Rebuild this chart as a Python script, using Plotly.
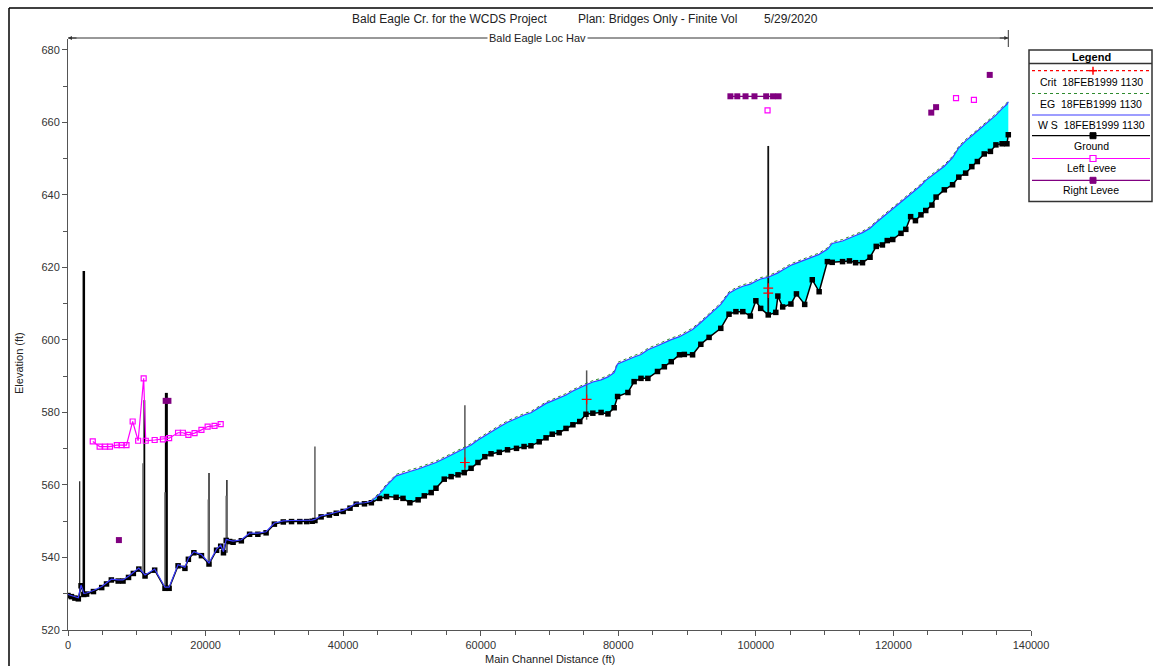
import plotly.graph_objects as go

# ---------------- data ----------------
dist = [0, 500, 1000, 1500, 1900, 2300, 2700, 3700, 4900, 5600, 6300, 7300, 8000, 8800, 9500,
        10300, 11200, 12600, 14100, 14700, 16000, 17000, 17500, 18300, 19400, 20500, 21600,
        22200, 22600, 23000, 23500, 24000, 25200, 26400, 27600, 28800, 30000, 31300, 32500,
        33700, 34700, 35500, 35900, 36800, 38000, 39000, 40000, 41000, 41900, 43100,
        44100, 45300, 46300, 47700, 48700, 49700, 50900, 51800, 52800, 53500, 54700, 55700,
        56700, 57600, 58600, 59600, 60600, 61500, 62700, 63900, 65200, 66300, 67300, 68500,
        69500, 70400, 71400, 72400, 73400, 74400, 75300, 76300, 77500, 78500, 79400, 79900,
        81400, 82300, 83300, 84300, 85700, 86700, 87700, 88900, 89600, 90800, 92000, 93200,
        94900, 96100, 97100, 98100, 99200, 100000, 100700, 101800, 102900, 103200, 103900,
        105100, 105900, 107100, 108200, 109200, 110400, 111100, 112600, 113600, 114500,
        115500, 116600, 117500, 118400, 119100, 119900, 121100, 121800, 122500, 123200,
        124000, 124700, 125600, 126200, 127400, 128600, 129500, 130500, 131400, 132200,
        133200, 134100, 134900, 135800, 136500, 136700]

ground = [529.5, 529.2, 528.8, 528.6, 532.2, 529.8, 529.9, 530.6, 531.7, 532.7, 533.8, 533.5,
          533.5, 534.5, 535.6, 536.8, 534.9, 536.5, 531.5, 531.5, 537.7, 537.0, 539.5, 541.3,
          540.5, 538.2, 542.0, 543.1, 541.3, 544.7, 544.4, 544.2, 544.6, 546.4, 546.4, 546.8,
          549.2, 549.8, 549.9, 549.9, 549.9, 550.0, 550.2, 551.2, 551.7, 552.2, 552.7, 553.6,
          554.7, 554.8,
          555.1, 556.3, 556.8, 556.6, 556.3, 555.1, 555.9, 557.0, 557.9, 559.1, 561.6, 562.3,
          562.8, 563.4, 564.6, 566.2, 567.8, 568.6, 569.0, 569.7, 570.1, 570.6, 570.8, 571.9,
          573.0, 574.0, 574.4, 575.6, 576.6, 577.5, 579.5, 579.8, 580.0, 579.6, 581.3, 584.4,
          585.5, 588.5, 589.4, 589.4, 591.3, 592.6, 594.0, 595.9, 596.0, 595.9, 598.8, 600.7,
          603.2, 607.1, 607.8, 607.8, 606.6, 610.8, 608.7, 606.9, 607.6, 612.1, 609.1,
          609.9, 612.7, 609.8, 616.6, 613.3, 621.6, 621.4, 621.6, 621.8, 621.3,
          621.3, 622.8, 625.8, 626.2, 627.4, 627.7, 629.4, 630.5, 634.0, 632.9,
          634.5, 635.7, 637.2, 639.4, 641.4, 642.8, 644.9, 646.0, 647.8, 649.2,
          651.3, 652.0, 653.8, 654.1, 654.1, 656.6]

ws = [529.8, 529.5, 529.1, 528.9, 532.4, 530.1, 530.2, 530.9, 532.0, 533.0, 534.0, 533.8,
      533.8, 534.8, 535.9, 537.1, 535.2, 536.8, 531.8, 531.8, 538.0, 537.3, 539.8, 541.6,
      540.8, 538.5, 542.3, 543.4, 541.6, 545.0, 544.7, 544.5, 544.9, 546.7, 546.7, 547.1,
      549.5, 550.1, 550.2, 550.2, 550.2, 550.3, 550.5, 551.5, 552.0, 552.5, 553.0, 553.9,
      555.0, 555.1,
      555.5, 557.5, 559.8, 562.5, 563.2, 563.7, 564.4, 565.0, 565.6, 566.2, 567.3, 568.3,
      569.1, 570.0, 571.0, 572.4, 573.6, 574.8, 576.0, 577.3, 578.5, 579.3, 579.9, 581.2,
      582.5, 583.2, 583.9, 584.8, 585.9, 586.9, 587.6, 588.4, 589.0, 589.8, 591.0, 593.4,
      594.7, 595.3, 596.0, 597.3, 598.4, 599.3, 600.1, 600.9, 601.6, 602.9, 604.8, 606.9,
      609.8, 612.9, 614.0, 614.8, 615.4, 616.2, 616.8, 617.3, 618.2, 618.5, 619.3,
      620.6, 621.2, 622.1, 623.0, 623.6, 625.0, 626.6, 627.3, 628.0, 628.8,
      629.6, 630.8, 632.4, 633.8, 635.0, 636.0, 638.0, 639.1, 640.3, 641.3,
      642.6, 644.0, 645.4, 646.2, 647.9, 650.3, 653.0, 654.9, 656.3, 657.6,
      659.4, 660.7, 662.0, 663.8, 665.0, 665.7]

eg_dist = [44100, 45300, 46300, 47700, 48700, 49700, 50900, 51800, 52800, 53500, 54700, 55700,
           56700, 57600, 58600, 59600, 60600, 61500, 62700, 63900, 65200, 66300, 67300, 68500,
           69500, 70400, 71400, 72400, 73400, 74400, 75300, 76300, 77500, 78500, 79400, 79900,
           81400, 82300, 83300, 84300, 85700, 86700, 87700, 88900, 89600, 90800, 92000, 93200,
           94900, 96100, 97100, 98100, 99200, 100000, 100700, 101800, 102900, 103200, 103900,
           105100, 105900, 107100, 108200, 109200, 110400, 111100, 112600, 113600, 114500,
           115500, 116600, 117500, 118400, 119100, 119900, 121100, 121800, 122500, 123200,
           124000, 124700, 125600, 126200, 127400, 128600, 129500, 130500, 131400, 132200,
           133200, 134100, 134900, 135800, 136500, 136700]
eg = [555.8, 557.9, 560.2, 562.9, 563.6, 564.1, 564.8, 565.4, 566.0, 566.6, 567.7, 568.7,
      569.5, 570.4, 571.4, 572.8, 574.0, 575.2, 576.4, 577.7, 578.9, 579.7, 580.3, 581.6,
      582.9, 583.6, 584.3, 585.2, 586.3, 587.3, 588.0, 588.8, 589.4, 590.2, 591.4, 593.8,
      595.1, 595.7, 596.4, 597.7, 598.8, 599.7, 600.5, 601.3, 602.0, 603.3, 605.2, 607.3,
      610.2, 613.3, 614.4, 615.2, 615.8, 616.6, 617.2, 617.7, 618.6, 618.9, 619.7,
      621.0, 621.6, 622.5, 623.4, 624.0, 625.4, 627.0, 627.7, 628.4, 629.2,
      630.0, 631.2, 632.8, 634.2, 635.4, 636.4, 638.4, 639.5, 640.7, 641.7,
      643.0, 644.4, 645.8, 646.6, 648.3, 650.7, 653.4, 655.3, 656.7, 658.0,
      659.8, 661.1, 662.4, 664.2, 665.4, 666.1]

crit_dist = [57700, 75400, 101800, 101800]
crit = [566.2, 583.6, 612.9, 614.3]

left_levee_dist = [3600, 4600, 5400, 6100, 7100, 7800, 8500, 9400, 10200, 11000, 11300, 12600,
                   13800, 14700, 16000, 16700, 17500, 18400, 19400, 20300, 21300, 22200,
                   None, 101700, None, 129100, None, 131700]
left_levee = [572.0, 570.6, 570.6, 570.6, 571.0, 571.0, 571.0, 577.5, 572.2, 589.4, 572.2, 572.4,
              572.6, 572.9, 574.4, 574.4, 573.8, 574.3, 575.2, 576.1, 576.3, 576.8,
              None, 663.3, None, 666.7, None, 666.2]

right_levee_dist = [7400, None, 14200, 14600, None, 96300, 97300, 98500, 99800, 101500, 102500,
                    103300, None, 125500, 126200, None, 134000]
right_levee = [544.8, None, 583.2, 583.2, None, 667.2, 667.2, 667.2, 667.2, 667.2, 667.2,
               667.2, None, 662.7, 664.2, None, 673.1]

bridge_dist = [1700, 2300, 11100, 14300, 20500, 23100, 35900, 57700, 75400, 101800]
bridge_low = [529.0, 529.8, 534.9, 531.5, 538.2, 541.3, 550.2, 563.4, 578.0, 606.9]
bridge_high = [561.0, 619.0, 583.4, 585.4, 563.3, 561.4, 570.6, 582.0, 591.6, 653.5]
# secondary (gray) faces of bridges
face_dist = [10900, 14100, 20400, 23000]
face_low = [535.5, 531.5, 538.3, 541.5]
face_high = [566.0, 558.0, 556.0, 557.0]

reach_name = "Bald Eagle Loc Hav"
reach_end = 136700

# styles
bridge_width = [1.2, 2.5, 1.8, 3.0, 1.5, 1.5, 1.2, 1.5, 1.5, 1.8]
bridge_color = ["#222", "#000", "#000", "#000", "#222", "#222", "#333", "#555", "#555", "#111"]

FONT = "Liberation Sans, Arial, sans-serif"
PL, PR, PT, PB = 68, 1031, 39, 630
W, H = PR - PL, PB - PT


def px(x):
    return (x - PL) / W


def py(y):
    return (PB - y) / H


fig = go.Figure()

# water fill
fig.add_trace(go.Scatter(x=dist, y=ground, mode="lines", line=dict(width=0, color="black"),
                         hoverinfo="skip", showlegend=False))
fig.add_trace(go.Scatter(x=dist, y=ws, mode="lines", line=dict(width=0, color="cyan"),
                         fill="tonexty", fillcolor="#00ffff", hoverinfo="skip", showlegend=False))

# bridges
for i in range(len(bridge_dist)):
    fig.add_trace(go.Scatter(x=[bridge_dist[i], bridge_dist[i]], y=[bridge_low[i], bridge_high[i]],
                             mode="lines", line=dict(color=bridge_color[i], width=bridge_width[i]),
                             showlegend=False, hoverinfo="skip"))
fx, fy = [], []
for d, lo, hi in zip(face_dist, face_low, face_high):
    fx += [d, d, None]
    fy += [lo, hi, None]
fig.add_trace(go.Scatter(x=fx, y=fy, mode="lines", line=dict(color="#666", width=1.5),
                         showlegend=False, hoverinfo="skip"))

# ground
fig.add_trace(go.Scatter(x=dist, y=ground, mode="lines+markers",
                         line=dict(color="black", width=1.5),
                         marker=dict(symbol="square", size=5.5, color="black"),
                         name="Ground", showlegend=False))
# EG
fig.add_trace(go.Scatter(x=eg_dist, y=eg, mode="lines", line=dict(color="#2e8b2e", width=1, dash="dot"),
                         name="EG 18FEB1999 1130", showlegend=False))
# WS
fig.add_trace(go.Scatter(x=dist, y=ws, mode="lines", line=dict(color="#3c3cff", width=1.2),
                         name="WS 18FEB1999 1130", showlegend=False))
# Crit
fig.add_trace(go.Scatter(x=crit_dist, y=crit, mode="markers",
                         marker=dict(symbol="cross-thin", size=7, line=dict(color="red", width=1.2)),
                         name="Crit 18FEB1999 1130", showlegend=False))
# levees
fig.add_trace(go.Scatter(x=left_levee_dist, y=left_levee, mode="lines+markers",
                         line=dict(color="#ff00ff", width=1.2),
                         marker=dict(symbol="square-open", size=5, color="#ff00ff", line=dict(width=1.2)),
                         name="Left Levee", showlegend=False, connectgaps=False))
fig.add_trace(go.Scatter(x=right_levee_dist, y=right_levee, mode="lines+markers",
                         line=dict(color="#800080", width=1.2),
                         marker=dict(symbol="square", size=6, color="#800080"),
                         name="Right Levee", showlegend=False, connectgaps=False))

shapes = []
annotations = []

# frame
shapes.append(dict(type="line", xref="paper", yref="paper", x0=px(9), x1=px(1153), y0=py(8), y1=py(8),
                   line=dict(color="black", width=1.5)))
shapes.append(dict(type="line", xref="paper", yref="paper", x0=px(9), x1=px(9), y0=py(8), y1=py(666),
                   line=dict(color="black", width=1.5)))

# reach arrow line
yr = py(38)
shapes.append(dict(type="line", xref="x", yref="paper", x0=0, x1=reach_end, y0=yr, y1=yr,
                   line=dict(color="#333", width=1)))
shapes.append(dict(type="line", xref="x", yref="paper", x0=reach_end, x1=reach_end, y0=py(30), y1=py(47),
                   line=dict(color="#333", width=1)))
annotations.append(dict(x=0, y=yr, xref="x", yref="paper", ax=10, ay=0, showarrow=True, arrowhead=2,
                        arrowsize=0.8, arrowwidth=1, arrowcolor="#333", text=""))
annotations.append(dict(x=reach_end, y=yr, xref="x", yref="paper", ax=-10, ay=0, showarrow=True,
                        arrowhead=2, arrowsize=0.8, arrowwidth=1, arrowcolor="#333", text=""))
annotations.append(dict(x=px(537), y=yr, xref="paper", yref="paper", text=reach_name, showarrow=False,
                        bgcolor="white", font=dict(family=FONT, size=11, color="#222"),
                        xanchor="center", yanchor="middle", borderpad=1))

# title parts
for txt, cx in [("Bald Eagle Cr. for the WCDS Project", 449), ("Plan: Bridges Only - Finite Vol", 657),
                ("5/29/2020", 791)]:
    annotations.append(dict(x=px(cx), y=py(19), xref="paper", yref="paper", text=txt, showarrow=False,
                            font=dict(family=FONT, size=12, color="#222"), xanchor="center", yanchor="middle"))

# axis titles
annotations.append(dict(x=px(550), y=py(659), xref="paper", yref="paper", text="Main Channel Distance (ft)",
                        showarrow=False, font=dict(family=FONT, size=11, color="#222"),
                        xanchor="center", yanchor="middle"))
annotations.append(dict(x=px(19), y=py(363), xref="paper", yref="paper", text="Elevation (ft)",
                        showarrow=False, textangle=-90, font=dict(family=FONT, size=11, color="#222"),
                        xanchor="center", yanchor="middle"))

# legend box
LX0, LX1 = 1029, 1152
shapes.append(dict(type="rect", xref="paper", yref="paper", x0=px(LX0), x1=px(LX1), y0=py(50), y1=py(201.5),
                   line=dict(color="#333", width=1.5), fillcolor="white"))
shapes.append(dict(type="line", xref="paper", yref="paper", x0=px(LX0), x1=px(LX1), y0=py(63.5), y1=py(63.5),
                   line=dict(color="#333", width=1.5)))
annotations.append(dict(x=px(1091), y=py(57), xref="paper", yref="paper", text="<b>Legend</b>",
                        showarrow=False, font=dict(family=FONT, size=11, color="black"),
                        xanchor="center", yanchor="middle"))

legend_items = [
    ("Crit  18FEB1999 1130", "red", "dot", 70.7, 81.7, "cross"),
    ("EG  18FEB1999 1130", "#2e8b2e", "dot", 93.5, 104.0, None),
    ("W S  18FEB1999 1130", "#3c3cff", "solid", 115.0, 125.0, None),
    ("Ground", "black", "solid", 135.7, 145.5, "fill"),
    ("Left Levee", "#ff00ff", "solid", 158.5, 168.5, "open"),
    ("Right Levee", "#800080", "solid", 180.3, 190.0, "fill"),
]
MX = 1093
for label, col, dash, ly, ty, mk in legend_items:
    shapes.append(dict(type="line", xref="paper", yref="paper", x0=px(1032), x1=px(1150), y0=py(ly), y1=py(ly),
                       line=dict(color=col, width=1.2, dash=dash)))
    if mk == "cross":
        shapes.append(dict(type="line", xref="paper", yref="paper", x0=px(MX - 4), x1=px(MX + 4),
                           y0=py(ly), y1=py(ly), line=dict(color=col, width=1.5)))
        shapes.append(dict(type="line", xref="paper", yref="paper", x0=px(MX), x1=px(MX),
                           y0=py(ly - 4), y1=py(ly + 4), line=dict(color=col, width=1.5)))
    elif mk == "fill":
        shapes.append(dict(type="rect", xref="paper", yref="paper", x0=px(MX - 3), x1=px(MX + 3),
                           y0=py(ly - 3), y1=py(ly + 3), line=dict(color=col, width=1), fillcolor=col))
    elif mk == "open":
        shapes.append(dict(type="rect", xref="paper", yref="paper", x0=px(MX - 3), x1=px(MX + 3),
                           y0=py(ly - 3), y1=py(ly + 3), line=dict(color=col, width=1.2), fillcolor="white"))
    annotations.append(dict(x=px(1091), y=py(ty), xref="paper", yref="paper", text=label, showarrow=False,
                            font=dict(family=FONT, size=10.5, color="black"), xanchor="center", yanchor="middle"))

axis_common = dict(showgrid=False, zeroline=False, showline=True, linecolor="#555", linewidth=1,
                   ticks="outside", ticklen=5, tickcolor="#555", tickwidth=1,
                   tickfont=dict(family=FONT, size=11, color="#333"))

fig.update_layout(
    width=1153, height=666,
    margin=dict(l=PL, r=1153 - PR, t=PT, b=666 - PB, pad=0),
    paper_bgcolor="white", plot_bgcolor="white",
    showlegend=False,
    xaxis=dict(range=[0, 140000], dtick=20000, tick0=0, tickformat="d",
               minor=dict(dtick=5000, ticks="outside", ticklen=4, tickcolor="#555"), **axis_common),
    yaxis=dict(range=[520, 683], dtick=20, tick0=520,
               minor=dict(dtick=10, ticks="outside", ticklen=4, tickcolor="#555"), **axis_common),
    shapes=shapes,
    annotations=annotations,
)

fig.write_html("out.html", config={"displayModeBar": False},
               post_script="document.body.style.margin='0px';document.body.style.overflow='hidden';")
